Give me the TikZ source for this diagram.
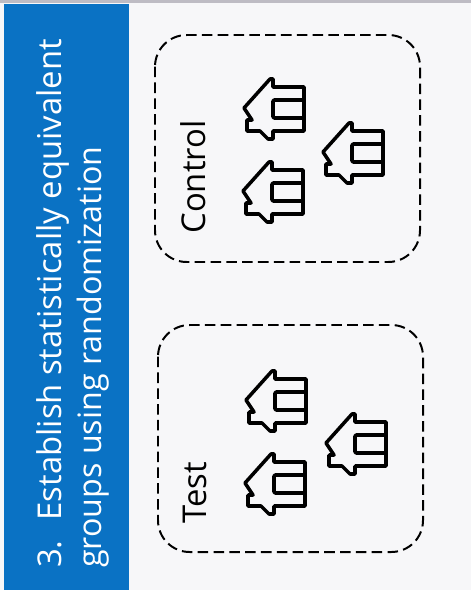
\documentclass[tikz,border=0pt]{standalone}
\usepackage{fontspec}
\setmainfont{Open Sans}
\usepackage{xcolor}
\usetikzlibrary{positioning}
\definecolor{bannerblue}{RGB}{10,114,196}
\definecolor{paperfill}{RGB}{247,247,249}
\definecolor{topstrip}{RGB}{190,188,196}
\newcommand{\housemark}[3]{% one house, tip of the roof at (#2,#3)
  \draw[houseline] (#2+2,#3) -- ++(26,-29) -- ++(3,0) -- ++(0,8) -- ++(31,0) -- ++(0,44) -- ++(-31,0)
    -- ++(0,8) -- ++(-5,0) -- ++(-8,-8) -- ++(-13,0) -- ++(0,-11) -- ++(5,0) -- cycle;
  \draw[houseline,rounded corners=1pt] (#2+61,#3-8) -- (#2+31,#3-8) -- (#2+31,#3+10) -- (#2+61,#3+10);
  \node[inner sep=0pt,minimum size=0pt] (#1) at (#2+30,#3) {};}
\begin{document}
\begin{tikzpicture}[x=0.03cm,y=-0.03cm,
    houseline/.style={line width=3pt,line join=round,black},
    groupbox/.style={draw,dash pattern=on 9pt off 4.5pt,line width=1.7pt,rounded corners=0.95cm},
    banner/.style={white,font=\fontsize{28}{32}\selectfont,rotate=90,anchor=base west,inner sep=0pt},
    grouplabel/.style={black,font=\fontsize{28}{32}\selectfont,rotate=90,anchor=center,inner sep=0pt}]
\useasboundingbox (0,0) rectangle (471,590);
\fill[paperfill] (0,0) rectangle (471,590);
\fill[topstrip] (0,0) rectangle (471,3);
\fill[bannerblue] (4,4) rectangle (129,590);

% ---- banner text
\node[banner] (bannerone) at (61,568) {3.\hspace{17pt}Establish statistically equivalent};
\node[banner,font=\fontsize{27.5}{32}\selectfont] (bannertwo) at (101,568) {groups using randomization};

% ---- control
\draw[groupbox] (155,35) rectangle (420,262);
\node[grouplabel] (controllabel) at (193,177) {Control};
\housemark{controla}{242}{108}
\housemark{controlb}{321}{152}
\housemark{controlc}{241}{191}

% ---- test
\draw[groupbox] (158,325) rectangle (423,552);
\node[grouplabel] (testlabel) at (195,493) {Test};
\housemark{testa}{244}{400}
\housemark{testb}{324}{443}
\housemark{testc}{243}{483}
\end{tikzpicture}
\end{document}
